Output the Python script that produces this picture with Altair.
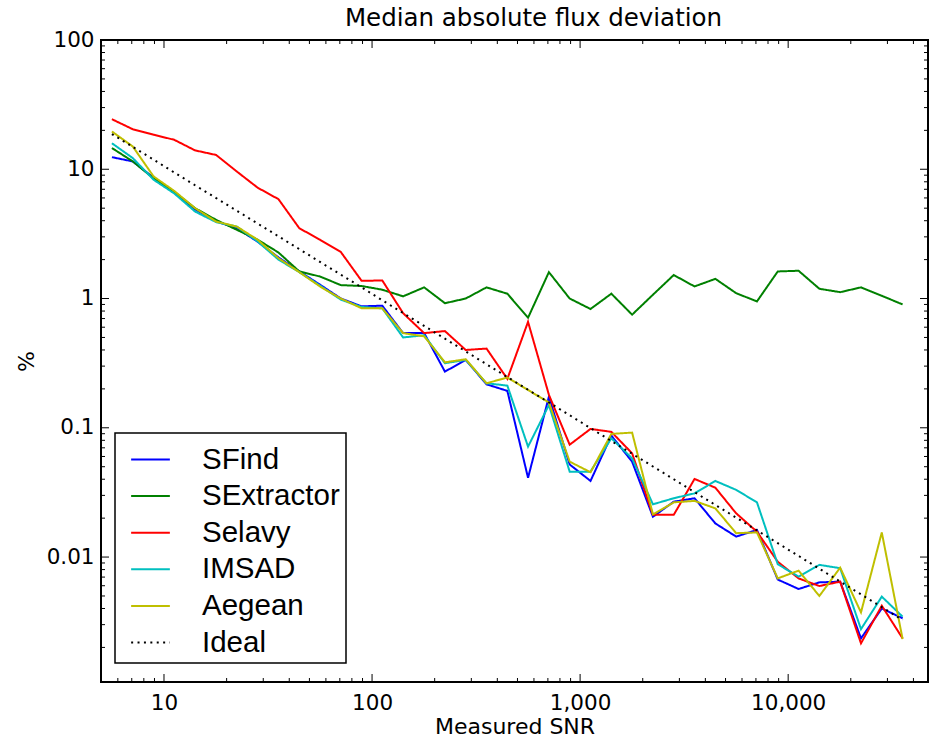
import altair as alt
import pandas as pd

# ---- data ----
snr = [5.62, 7.08, 8.91, 11.2, 14.1, 17.8, 22.4, 28.2, 35.5, 44.7,
       56.2, 70.8, 89.1, 112, 141, 178, 224, 282, 355, 447,
       562, 708, 891, 1122, 1413, 1778, 2239, 2818, 3548, 4467,
       5623, 7079, 8913, 11220, 14125, 17783, 22387, 28184, 35481]

sfind = [12.4, 11.5, 8.6, 6.6, 4.9, 3.95, 3.5, 2.75, 2.08, 1.62,
         1.28, 1.0, 0.87, 0.88, 0.54, 0.54, 0.272, 0.335, 0.217, 0.193,
         0.041, 0.174, 0.052, 0.0388, 0.087, 0.0547, 0.0205, 0.0268, 0.0285, 0.0182,
         0.0144, 0.0162, 0.0067, 0.00566, 0.00637, 0.00645, 0.00235, 0.0040, 0.00336]

sextractor = [14.6, 11.5, 8.5, 6.7, 5.0, 4.06, 3.40, 2.85, 2.27, 1.62,
              1.48, 1.27, 1.25, 1.17, 1.04, 1.22, 0.92, 1.0, 1.22, 1.09,
              0.71, 1.60, 1.0, 0.83, 1.09, 0.75, 1.07, 1.52, 1.24, 1.42,
              1.10, 0.95, 1.62, 1.64, 1.19, 1.12, 1.22, 1.05, 0.90]

selavy = [24.4, 20.4, 18.5, 16.9, 14.0, 12.9, 9.6, 7.2, 5.87, 3.50,
          2.85, 2.29, 1.37, 1.38, 0.77, 0.54, 0.56, 0.40, 0.41, 0.239,
          0.66, 0.180, 0.074, 0.098, 0.093, 0.0635, 0.0212, 0.0212, 0.0402, 0.0344,
          0.0218, 0.0157, 0.0092, 0.00684, 0.00597, 0.00645, 0.00215, 0.0042, 0.00235]

imsad = [15.9, 12.2, 8.3, 6.5, 4.71, 3.9, 3.6, 2.76, 2.0, 1.6,
         1.26, 0.98, 0.86, 0.84, 0.50, 0.52, 0.316, 0.335, 0.221, 0.212,
         0.0715, 0.150, 0.0458, 0.0458, 0.083, 0.058, 0.0256, 0.0285, 0.0311, 0.0388,
         0.0331, 0.0265, 0.0088, 0.00705, 0.0087, 0.0082, 0.00277, 0.00494, 0.00346]

aegean = [19.6, 15.0, 8.8, 6.8, 5.0, 3.94, 3.6, 2.85, 2.05, 1.6,
          1.24, 1.0, 0.84, 0.84, 0.54, 0.51, 0.321, 0.339, 0.221, 0.245,
          0.196, 0.157, 0.0547, 0.0453, 0.0897, 0.0918, 0.0214, 0.0265, 0.0272, 0.0238,
          0.0153, 0.0155, 0.00684, 0.00785, 0.0050, 0.00828, 0.00373, 0.0155, 0.00232]

ideal = [18.71, 14.90, 11.87, 9.45, 7.52, 5.99, 4.77, 3.80, 3.03, 2.41,
         1.92, 1.53, 1.22, 0.969, 0.772, 0.614, 0.489, 0.390, 0.310, 0.247,
         0.197, 0.157, 0.125, 0.0994, 0.0791, 0.0630, 0.0502, 0.0400, 0.0318, 0.0253,
         0.0202, 0.0161, 0.0128, 0.0102, 0.00812, 0.00646, 0.00515, 0.00410, 0.00326]

names = ["SFind", "SExtractor", "Selavy", "IMSAD", "Aegean", "Ideal"]
colors = ["#0000ff", "#008000", "#ff0000", "#00bfbf", "#bfbf00", "#000000"]
dashes = [[1, 0], [1, 0], [1, 0], [1, 0], [1, 0], [2, 4.4]]

x_major = [10, 100, 1000, 10000]
y_major = [0.01, 0.1, 1, 10, 100]
x_minor = [5, 6, 7, 8, 9] + [m * 10 ** d for d in range(1, 5) for m in range(2, 10) if m * 10 ** d < 47000]
y_minor = [m * 10.0 ** d for d in range(-3, 2) for m in range(2, 10)]

series = [sfind, sextractor, selavy, imsad, aegean, ideal]
rows = []
for name, vals in zip(names, series):
    for i, (s, v) in enumerate(zip(snr, vals)):
        rows.append({"series": name, "snr": s, "pct": v, "i": i})
df = pd.DataFrame(rows)

W, H = 827, 642
xscale = alt.Scale(type="log", domain=[4.98, 47000], nice=False, zero=False)
yscale = alt.Scale(type="log", domain=[0.00108, 100], nice=False, zero=False)

leg = alt.Legend(
    title=None, orient="none", legendX=14, legendY=393,
    symbolType="stroke", symbolSize=1500, symbolStrokeWidth=2, symbolOffset=9,
    labelFont="Liberation Sans", labelFontSize=29.5, labelColor="black",
    labelOffset=31, rowPadding=1.6, padding=6,
    strokeColor="black", fillColor="white", labelLimit=400,
)

xaxis = alt.Axis(values=x_major, format=",", title="Measured SNR", tickSize=0,
                 domain=False, grid=False, labelFont="DejaVu Sans", labelFontSize=21.5,
                 labelColor="black", labelPadding=10, titleFont="DejaVu Sans",
                 titleFontSize=22, titleFontWeight="normal", titleColor="black",
                 titlePadding=3)
yaxis = alt.Axis(values=y_major, format="~g", title="%", tickSize=0,
                 domain=False, grid=False, labelFont="DejaVu Sans", labelFontSize=21.5,
                 labelColor="black", labelPadding=7, titleFont="DejaVu Sans",
                 titleFontSize=22, titleFontWeight="normal", titleColor="black",
                 titlePadding=8)

lines = alt.Chart(df).mark_line(strokeWidth=2, clip=True).encode(
    x=alt.X("snr:Q", scale=xscale, axis=xaxis),
    y=alt.Y("pct:Q", scale=yscale, axis=yaxis),
    color=alt.Color("series:N", scale=alt.Scale(domain=names, range=colors), legend=leg),
    strokeDash=alt.StrokeDash("series:N", scale=alt.Scale(domain=names, range=dashes), legend=leg),
    order="i:Q",
)

xmaj = pd.DataFrame({"snr": x_major})
xmin = pd.DataFrame({"snr": x_minor})
ymaj = pd.DataFrame({"pct": y_major})
ymin = pd.DataFrame({"pct": y_minor})


def xticks(data, y0, y1):
    return alt.Chart(data).mark_rule(color="black", strokeWidth=1).encode(
        x=alt.X("snr:Q", scale=xscale, axis=xaxis), y=alt.value(y0), y2=alt.value(y1))


def yticks(data, x0, x1):
    return alt.Chart(data).mark_rule(color="black", strokeWidth=1).encode(
        y=alt.Y("pct:Q", scale=yscale, axis=yaxis), x=alt.value(x0), x2=alt.value(x1))


ticks = [
    xticks(xmaj, H, H - 8), xticks(xmin, H, H - 4),
    xticks(xmaj, 0, 8), xticks(xmin, 0, 4),
    yticks(ymaj, 0, 8), yticks(ymin, 0, 4),
    yticks(ymaj, W, W - 8), yticks(ymin, W, W - 4),
]

chart = alt.layer(*ticks, lines).properties(
    width=W, height=H,
    title=alt.TitleParams("Median absolute flux deviation", font="DejaVu Sans",
                          fontSize=24.5, fontWeight="normal", color="black",
                          anchor="middle", dx=19, dy=10, offset=8),
    autosize=alt.AutoSizeParams(type="none"),
    padding={"left": 101, "top": 40, "right": 6, "bottom": 56},
    background="white",
).configure_view(stroke="black", strokeWidth=2).configure_legend(strokeWidth=1.5)

chart.save("out.html", embed_options={"renderer": "svg", "actions": False})
